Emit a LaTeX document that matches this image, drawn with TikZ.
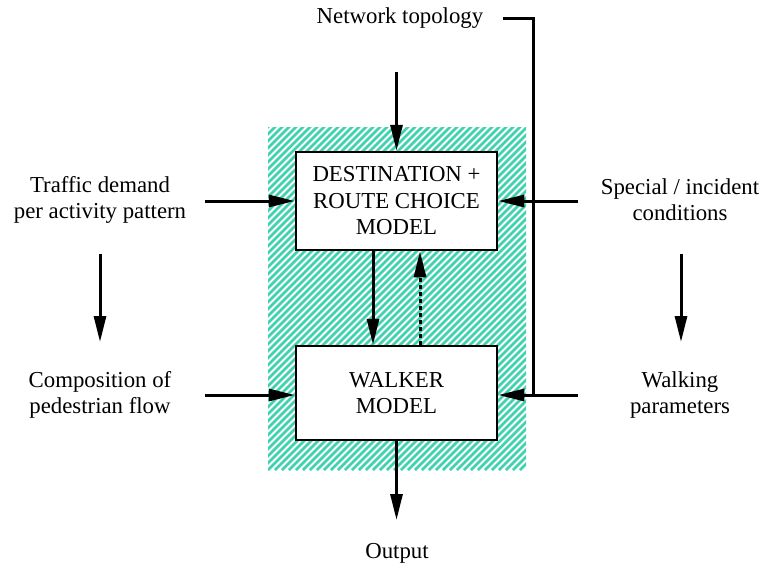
\documentclass[tikz,border=0pt]{standalone}
\usepackage{fontspec}
\setmainfont{Liberation Serif}
\usetikzlibrary{arrows.meta}
\definecolor{hatch}{RGB}{62,210,174}
\begin{document}
\begin{tikzpicture}[x=1pt,y=-1pt,
  lbl/.style={align=center,font=\fontsize{22.8}{26}\selectfont,inner sep=0pt},
  model/.style={draw,line width=2.5pt,fill=white,minimum width=201pt,align=center,font=\fontsize{22.8}{26.5}\selectfont,inner sep=0pt},
  arr/.style={line width=3pt,-{Triangle[length=26pt,width=12pt]}},
  link/.style={line width=3pt}]
\useasboundingbox (0,0) rectangle (761,579);
% hatched background
\begin{scope}
  \clip (268,127) rectangle (526,470);
  \foreach \i in {0,7,...,630}{
    \draw[hatch,line width=2.6pt] (268+\i-350,470) -- (268+\i,120);
  }
\end{scope}
% boxes
\node[model,minimum height=98pt] (route) at (396.5,201) {DESTINATION +\\ROUTE CHOICE\\MODEL};
\node[model,minimum height=94pt] (walker) at (396.5,393) {WALKER\\MODEL};
% labels
\node[lbl] (net) at (400,18) {Network topology};
\node[lbl] (traffic) at (100,200) {Traffic demand\\per activity pattern};
\node[lbl] (comp) at (100,395) {Composition of\\pedestrian flow};
\node[lbl] (special) at (680,200) {Special / incident\\conditions};
\node[lbl] (walk) at (680,395) {Walking\\parameters};
\node[lbl] (out) at (397,553) {Output};
% coordinates
\coordinate (netA) at (396.5,72);
\coordinate (trA) at (205,201);
\coordinate (coA) at (205,395);
\coordinate (spA) at (578,201);
\coordinate (waA) at (578,395);
\coordinate (dl1) at (100,254);
\coordinate (dl2) at (100,342);
\coordinate (dr1) at (681,254);
\coordinate (dr2) at (681,342);
\coordinate (outA) at (396.5,520);
\coordinate (nt1) at (503,18);
\coordinate (nt2) at (533,395);
% connectors
\draw[arr] (netA) -- (route.north);
\draw[arr] (trA) -- (route.west |- trA);
\draw[arr] (coA) -- (walker.west |- coA);
\draw[arr] (spA) -- (route.east |- spA);
\draw[arr] (waA) -- (walker.east |- waA);
\draw[arr] (dl1) -- (dl2);
\draw[arr] (dr1) -- (dr2);
\draw[arr] (walker.south) -- (outA);
\draw[arr] (route.south -| 373,0) -- (walker.north -| 373,0);
\draw[arr,dash pattern=on 4pt off 3pt] (walker.north -| 420,0) -- (route.south -| 420,0);
\draw[link] (nt1) -| (nt2);
\end{tikzpicture}
\end{document}
